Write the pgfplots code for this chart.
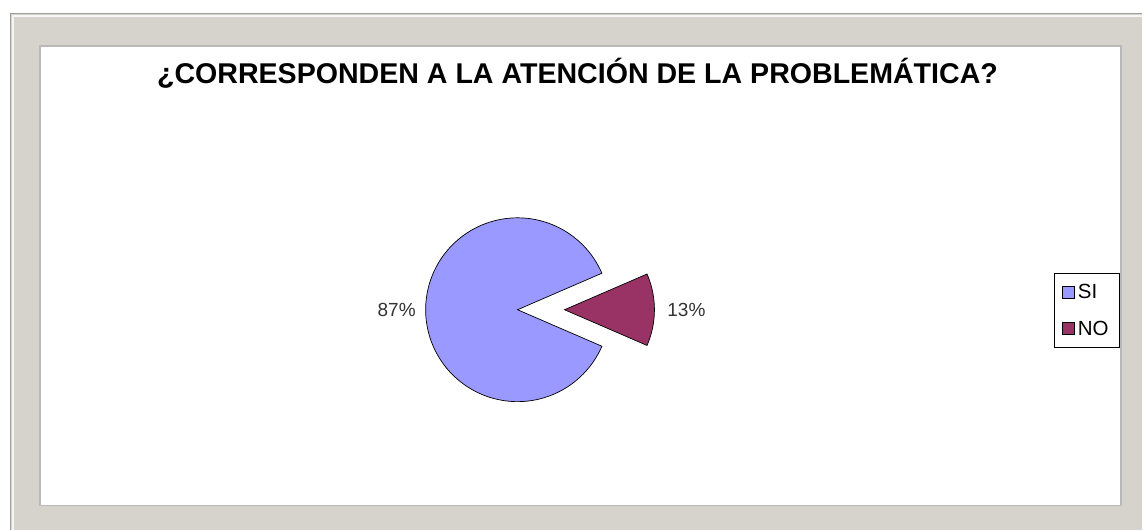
\documentclass[border=0pt]{standalone}
\usepackage{pgfplots}
\pgfplotsset{compat=1.18}
\usepackage{pgfplotstable}
\usepackage{fontspec}
\setmainfont{Liberation Sans}
\definecolor{sicol}{HTML}{9999FF}
\definecolor{nocol}{HTML}{993366}
\definecolor{framecol}{HTML}{D5D3CB}
\pgfplotstableread{
label value
SI 87
NO 13
}\piedata
\pgfplotstablegetelem{0}{value}\of\piedata \let\vSI\pgfplotsretval
\pgfplotstablegetelem{1}{value}\of\piedata \let\vNO\pgfplotsretval
\pgfmathsetmacro\halfNO{\vNO*3.6/2}
\pgfmathsetmacro\endSI{\halfNO+\vSI*3.6}
\begin{document}
\begin{tikzpicture}
\begin{axis}[
  hide axis, scale only axis, width=1143pt, height=530pt,
  xmin=0, xmax=1143, ymin=0, ymax=530, clip=false,
  legend style={at={(1055/1143,257/530)}, anchor=north west, draw=black, line width=0.6pt,
    fill=white, font=\fontsize{20.5}{22}\selectfont, inner xsep=8pt, inner ysep=11pt,
    row sep=21pt, cells={anchor=west}, nodes={inner xsep=3pt, inner ysep=0pt},
    xshift=0pt},
  legend image code/.code={\draw[#1, draw=black, line width=0.6pt] (0pt,-6pt) rectangle (12pt,6pt);},
]
% frame
\fill[white] (axis cs:0,0) rectangle (axis cs:1143,530);
\fill[framecol] (axis cs:10,0) rectangle (axis cs:1143,517);
\draw[gray!75, line width=0.8pt] (axis cs:10,0) -- (axis cs:10,517) -- (axis cs:1143,517);
\draw[white!92!gray, line width=2pt] (axis cs:13,0) -- (axis cs:13,514) -- (axis cs:1143,514);
\fill[white, draw=gray!55, line width=1.2pt] (axis cs:40,24) rectangle (axis cs:1122,484);
% SI slice
\addplot[fill=sicol, draw=black, line width=0.7pt, domain=\halfNO:\endSI, samples=120, variable=\t]
  ({518+92*cos(t)},{220+92*sin(t)}) -- (axis cs:518,220) -- cycle;
\addlegendentry{SI}
% NO slice (exploded)
\addplot[fill=nocol, draw=black, line width=0.7pt, domain=-\halfNO:\halfNO, samples=40, variable=\t]
  ({565+90*cos(t)},{220+90*sin(t)}) -- (axis cs:565,220) -- cycle;
\addlegendentry{NO}
% labels
\node[font=\fontsize{19}{20}\selectfont, text=black!80] at (axis cs:397,220) {87\%};
\node[font=\fontsize{19}{20}\selectfont, text=black!80] at (axis cs:687,220) {13\%};
% title
\node[font=\bfseries\fontsize{28.6}{32}\selectfont] at (axis cs:578,457) {¿CORRESPONDEN A LA ATENCIÓN DE LA PROBLEMÁTICA?};
\end{axis}
\end{tikzpicture}
\end{document}
